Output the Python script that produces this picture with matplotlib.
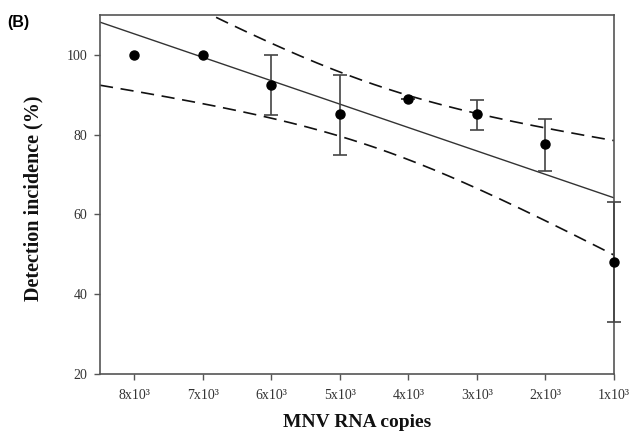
import numpy as np
import matplotlib
matplotlib.use("Agg")
import matplotlib.pyplot as plt

# ---- data ----
categories = ["8x10³", "7x10³", "6x10³", "5x10³", "4x10³", "3x10³", "2x10³", "1x10³"]
means = [100, 100, 92.5, 85.25, 89, 85.25, 77.75, 48]
err_upper = [0, 0, 100, 95, 89, 88.75, 84, 63]
err_lower = [100, 100, 85, 75, 89, 81.25, 71, 33]
t_crit = 2.447  # t(0.975, df=6)

x = np.arange(len(categories))
y = np.array(means, dtype=float)
up = np.array(err_upper, dtype=float)
lo = np.array(err_lower, dtype=float)
has_err = up > 0

# regression + 95% CI from the plotted means
slope, intercept = np.polyfit(x, y, 1)
resid = y - (intercept + slope * x)
n = len(x)
s = np.sqrt(np.sum(resid ** 2) / (n - 2))
sxx = np.sum((x - x.mean()) ** 2)
xf = np.linspace(-0.5, 7, 200)
yf = intercept + slope * xf
half = t_crit * s * np.sqrt(1.0 / n + (xf - x.mean()) ** 2 / sxx)

plt.rcParams['lines.scale_dashes'] = False
fig = plt.figure(figsize=(6.3, 4.36), dpi=100)
ax = fig.add_axes([100 / 630, 62 / 436, 514 / 630, 359 / 436])

ax.plot(xf, yf, color='#333333', lw=1.0, zorder=2)
ax.plot(xf, yf + half, color='#111111', lw=1.2, dashes=(9.5, 5.5), zorder=2)
ax.plot(xf, yf - half, color='#111111', lw=1.2, dashes=(9.5, 5.5), zorder=2)

yerr = np.vstack([np.where(has_err, y - lo, 0), np.where(has_err, up - y, 0)])
ax.errorbar(x[has_err], y[has_err], yerr=yerr[:, has_err], fmt='none',
            ecolor='#444444', elinewidth=1.2, capsize=5, capthick=1.2,
            zorder=3, clip_on=False)
ax.plot(x, y, 'o', color='black', ms=6.5, zorder=4, clip_on=False)

ax.set_xlim(-0.5, 7)
ax.set_ylim(20, 110)
ax.set_xticks(x)
ax.set_xticklabels(categories)
ax.set_yticks([20, 40, 60, 80, 100])

serif = ['Liberation Serif', 'DejaVu Serif']
for lab in ax.get_xticklabels() + ax.get_yticklabels():
    lab.set_fontfamily(serif)
    lab.set_fontsize(10)
    lab.set_color('#333333')
ax.tick_params(direction='out', length=4, width=1.0, color='#555555', pad=5)
ax.tick_params(axis='x', pad=7)
for sp in ax.spines.values():
    sp.set_color('#555555')
    sp.set_linewidth(1.2)

ax.set_ylabel('Detection incidence (%)', family=serif, fontsize=14.5,
              fontweight='bold', color='#111111')
ax.yaxis.set_label_coords(-0.109, 0.49)
ax.set_xlabel('MNV RNA copies', family=serif, fontsize=14,
              fontweight='bold', color='#111111')
ax.xaxis.set_label_coords(0.5, -0.112)

fig.text(0.011, 1 - 22 / 436, '(B)', family=['Liberation Sans', 'DejaVu Sans'],
         fontsize=11.5, fontweight='bold', va='center', ha='left')

fig.savefig('out.png', dpi=100)
